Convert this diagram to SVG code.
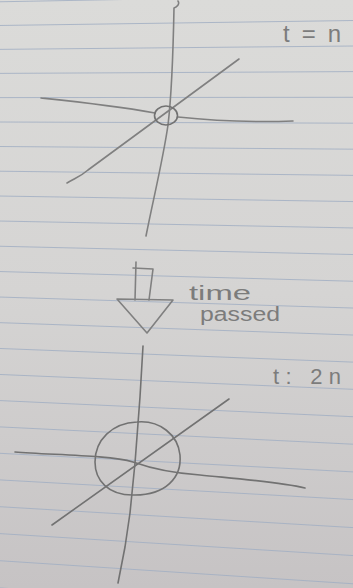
<svg xmlns="http://www.w3.org/2000/svg" width="353" height="588" viewBox="0 0 353 588">
  <defs>
    <linearGradient id="paper" x1="0" y1="0" x2="0" y2="1">
      <stop offset="0" stop-color="#dbdbd9"/>
      <stop offset="0.5" stop-color="#d5d4d3"/>
      <stop offset="1" stop-color="#c6c3c4"/>
    </linearGradient>
    <style>
      .rule { stroke: #a2afc3; stroke-width: 1; opacity: 0.85; fill: none; }
      .pencil { stroke: #808080; stroke-width: 1.6; fill: none; stroke-linecap: round; stroke-linejoin: round; }
      .dark { stroke: #727272; }
      .hand { font-family: "Liberation Sans", "DejaVu Sans", sans-serif; fill: #7c7c7c; }
    </style>
  </defs>

  <rect width="353" height="588" fill="url(#paper)"/>

  <g id="ruled-lines">
    <line class="rule" x1="-2" y1="1.8" x2="355" y2="-4.8"/>
    <line class="rule" x1="-2" y1="25.5" x2="355" y2="20.5"/>
    <line class="rule" x1="-2" y1="49.4" x2="355" y2="46"/>
    <line class="rule" x1="-2" y1="73.4" x2="355" y2="71.6"/>
    <line class="rule" x1="-2" y1="97.6" x2="355" y2="97.3"/>
    <line class="rule" x1="-2" y1="122" x2="355" y2="123.2"/>
    <line class="rule" x1="-2" y1="146.5" x2="355" y2="149.2"/>
    <line class="rule" x1="-2" y1="171.2" x2="355" y2="175.4"/>
    <line class="rule" x1="-2" y1="196" x2="355" y2="201.6"/>
    <line class="rule" x1="-2" y1="221" x2="355" y2="228"/>
    <line class="rule" x1="-2" y1="246.2" x2="355" y2="254.6"/>
    <line class="rule" x1="-2" y1="271.5" x2="355" y2="281.3"/>
    <line class="rule" x1="-2" y1="297" x2="355" y2="308.1"/>
    <line class="rule" x1="-2" y1="322.6" x2="355" y2="335.1"/>
    <line class="rule" x1="-2" y1="348.4" x2="355" y2="362.2"/>
    <line class="rule" x1="-2" y1="374.4" x2="355" y2="389.4"/>
    <line class="rule" x1="-2" y1="400.5" x2="355" y2="416.8"/>
    <line class="rule" x1="-2" y1="426.8" x2="355" y2="444.3"/>
    <line class="rule" x1="-2" y1="453.2" x2="355" y2="472"/>
    <line class="rule" x1="-2" y1="479.8" x2="355" y2="499.7"/>
    <line class="rule" x1="-2" y1="506.6" x2="355" y2="527.7"/>
    <line class="rule" x1="-2" y1="533.5" x2="355" y2="555.7"/>
    <line class="rule" x1="-2" y1="560.6" x2="355" y2="583.9"/>
    <line class="rule" x1="-2" y1="587.8" x2="355" y2="612.2"/>
  </g>

  <g id="figure-t-n">
    <path class="pencil" d="M178,1 C180,4 177,7 174,8 C173,60 171,100 168,125 C163,160 153,200 146,236"/>
    <path class="pencil" d="M41,98 C60,100 110,105 155,113"/>
    <path class="pencil" d="M178,117 Q235,123 293,121"/>
    <path class="pencil" d="M67,183 C75,178 80,177 88,170 L239,59"/>
    <ellipse class="pencil dark" cx="166" cy="115.5" rx="11.5" ry="9.5" stroke-width="2"/>
    <text class="hand" x="283" y="42" font-size="24" textLength="58" lengthAdjust="spacing">t=n</text>
  </g>

  <g id="arrow-time-passed">
    <path class="pencil" d="M136,262 L135,300"/>
    <path class="pencil" d="M133,268 L153,269 L149,300"/>
    <path class="pencil" d="M117,299 L173,300 L147,333 Z"/>
    <text class="hand" x="189" y="300" font-size="20" textLength="62" lengthAdjust="spacingAndGlyphs">time</text>
    <text class="hand" x="200" y="321" font-size="20" textLength="80" lengthAdjust="spacingAndGlyphs">passed</text>
  </g>

  <g id="figure-t-2n">
    <path class="pencil dark" d="M143,346 L140,397 L135,463 L130,513 L125,547 L118,583"/>
    <path class="pencil dark" d="M15,452 C50,455 110,455 133,462 C150,468 170,473 200,475 C240,479 280,482 305,488"/>
    <path class="pencil dark" d="M52,525 L229,399"/>
    <path class="pencil dark" d="M137,422 C160,420 178,435 180,455 C182,478 165,495 135,495 C108,496 95,480 95,462 C95,440 112,423 137,422 Z"/>
    <text class="hand" x="273" y="384" font-size="22" textLength="68" lengthAdjust="spacing">t: 2n</text>
  </g>
</svg>
